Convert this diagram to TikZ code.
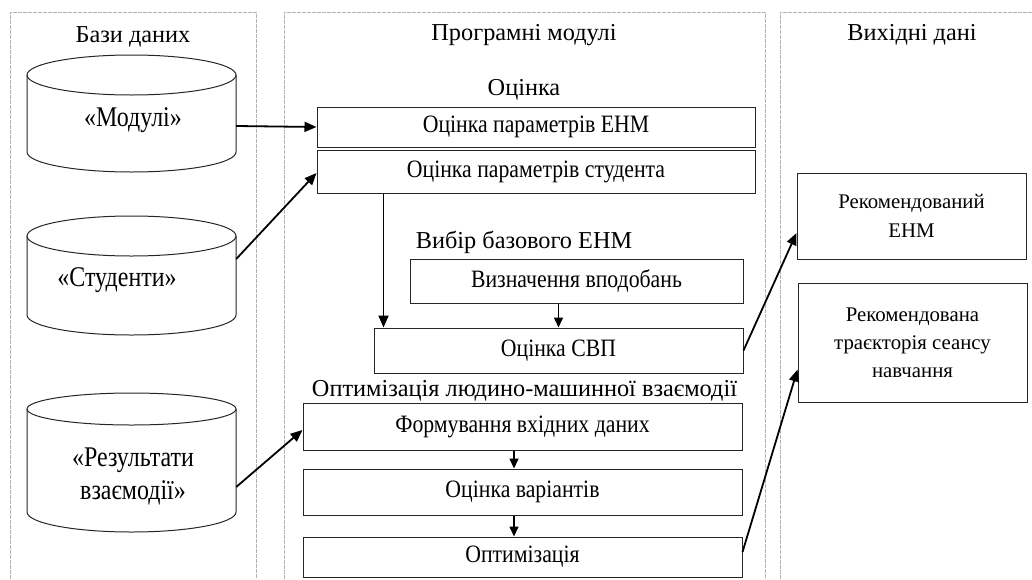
\documentclass[tikz,border=0pt]{standalone}
\usepackage{fontspec}
\setmainfont{Liberation Serif}
\newfontfamily\tallfont[FakeStretch=0.87]{Liberation Serif}
\newfontfamily\cylfont[FakeStretch=0.84]{Liberation Serif}
\usetikzlibrary{arrows.meta,calc}
\begin{document}
\begin{tikzpicture}[x=1pt,y=-1pt,
  panel/.style={draw=black!30,line width=1pt,dash pattern=on 4pt off 1pt},
  box/.style={draw=black!85,line width=1pt,inner sep=0pt,align=center,font=\tallfont\fontsize{25}{27}\selectfont},
  lbl/.style={inner sep=0pt,font=\fontsize{24.3}{28}\selectfont},
  cyltxt/.style={inner sep=0pt,align=center,font=\cylfont\fontsize{28.5}{33}\selectfont},
  cyl/.style={draw=black!85,line width=1pt},
  arr/.style={draw=black,line width=1.8pt,-{Triangle[length=12pt,width=10pt]}},
  sarr/.style={draw=black,line width=1.6pt,-{Triangle[length=10pt,width=9pt]}}]
\useasboundingbox (0,0) rectangle (1032,579);
% panels
\draw[panel] (10,579) -- (10,12) -- (256,12) -- (256,579);
\draw[panel] (284,579) -- (284,12) -- (765,12) -- (765,579);
\draw[panel] (780,579) -- (780,12) -- (1032,12);
% titles
\node[lbl] (t1) at (133,37) {Бази даних};
\node[lbl] (t2) at (524,35) {Програмні модулі};
\node[lbl] (t3) at (912,35) {Вихідні дані};
% cylinders
\draw[cyl] (131.5,75) ellipse [x radius=104.5,y radius=20];
\draw[cyl] (27,75) -- (27,152) arc [start angle=180,end angle=360,x radius=104.5,y radius=-20] -- (236,75);
\node[inner sep=0pt,minimum width=209pt,minimum height=77pt] (cm) at (131.5,113.5) {};
\node[cyltxt] (cmt) at (133,120) {«Модулі»};
\draw[cyl] (131.5,236) ellipse [x radius=104.5,y radius=20];
\draw[cyl] (27,236) -- (27,315) arc [start angle=180,end angle=360,x radius=104.5,y radius=-20] -- (236,236);
\node[inner sep=0pt,minimum width=209pt,minimum height=79pt] (cs) at (131.5,275.5) {};
\node[cyltxt] (cst) at (117,280) {«Студенти»};
\draw[cyl] (131.5,409) ellipse [x radius=104.5,y radius=16];
\draw[cyl] (27,409) -- (27,512) arc [start angle=180,end angle=360,x radius=104.5,y radius=-20] -- (236,409);
\node[inner sep=0pt,minimum width=209pt,minimum height=103pt] (cr) at (131.5,460.5) {};
\node[cyltxt] (crt) at (133,476) {«Результати\\взаємодії»};
% middle panel
\node[lbl] (l1) at (524,90) {Оцінка};
\node[box,minimum width=438pt,minimum height=40pt] (b1) at (536,127) {Оцінка параметрів ЕНМ};
\node[box,minimum width=438pt,minimum height=43pt] (b2) at (536,171.5) {Оцінка параметрів студента};
\node[lbl] (l2) at (524,242) {Вибір базового ЕНМ};
\node[box,minimum width=333pt,minimum height=44pt] (viz) at (576.5,281) {Визначення вподобань};
\node[box,minimum width=369pt,minimum height=45pt] (svp) at (558.5,350.5) {Оцінка СВП};
\node[lbl] (l3) at (524.5,391) {Оптимізація людино-машинної взаємодії};
\node[box,minimum width=439pt,minimum height=47pt] (f1) at (522.5,426.5) {Формування вхідних даних};
\node[box,minimum width=439pt,minimum height=46pt] (f2) at (522.5,492) {Оцінка варіантів};
\node[box,minimum width=439pt,minimum height=40pt] (f3) at (522.5,557) {Оптимізація};
% right panel
\node[box,minimum width=229pt,minimum height=86pt,font=\fontsize{20.8}{29}\selectfont] (r1) at (911.5,216) {Рекомендований\\ЕНМ};
\node[box,minimum width=229pt,minimum height=119pt,font=\fontsize{20.8}{28}\selectfont] (r2) at (912.5,342.5) {Рекомендована\\траєкторія сеансу\\навчання};
% connectors
\draw[arr] ([yshift=-12.5pt]cm.east) -- (b1.west);
\draw[arr] ([yshift=16.5pt]cs.east) -- ([yshift=-1.5pt]b2.west);
\draw[arr] ([yshift=-26.5pt]cr.east) -- ([yshift=-3.5pt]f1.west);
\draw[arr] ([xshift=10pt]svp.north west |- b2.south) -- ([xshift=10pt]svp.north west);
\draw[sarr] (svp.north |- viz.south) -- (svp.north);
\draw[sarr] (514,0 |- f1.south) -- (514,0 |- f2.north);
\draw[sarr] (514,0 |- f2.south) -- (514,0 |- f3.north);
\draw[arr] (svp.east) -- ([yshift=-17pt]r1.west);
\draw[arr] ([yshift=5pt]f3.east) -- ([yshift=-27pt]r2.west);
\end{tikzpicture}
\end{document}
